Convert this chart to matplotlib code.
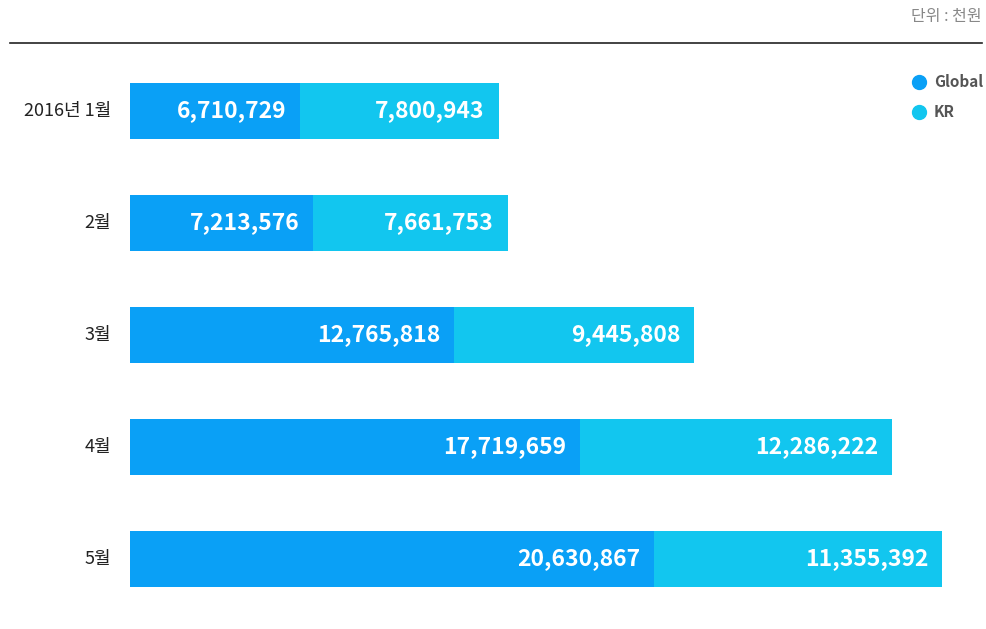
import matplotlib.pyplot as plt
import numpy as np

plt.rcParams['font.family'] = ['Noto Sans CJK KR', 'DejaVu Sans']

months = ['2016년 1월', '2월', '3월', '4월', '5월']
global_vals = [6710729, 7213576, 12765818, 17719659, 20630867]
kr_vals = [7800943, 7661753, 9445808, 12286222, 11355392]

c_global = '#0aa0f6'
c_kr = '#12c6ef'

fig = plt.figure(figsize=(9.86, 6.29), dpi=100)
ax = fig.add_axes([130 / 986, 1 - 615 / 629, 838 / 986, 560 / 629])

y = np.arange(len(months))
g = np.array(global_vals)
k = np.array(kr_vals)
ax.barh(y, g, height=0.5, color=c_global)
ax.barh(y, k, left=g, height=0.5, color=c_kr)

ax.set_xlim(0, 33e6)
ax.set_ylim(4.5, -0.5)

pad = 0.55e6
for i in range(len(months)):
    ax.text(g[i] - pad, y[i], f'{g[i]:,}', ha='right', va='center',
            color='white', fontsize=16.5, fontweight='bold')
    ax.text(g[i] + k[i] - pad, y[i], f'{k[i]:,}', ha='right', va='center',
            color='white', fontsize=16.5, fontweight='bold')
    ax.text(-0.75e6, y[i], months[i], ha='right', va='center',
            color='#222222', fontsize=13)

ax.axis('off')

# top rule and unit label
fig.add_artist(plt.Line2D([10 / 986, 982 / 986], [1 - 43 / 629] * 2,
                          color='#222222', lw=1.2))
fig.text(982 / 986, 1 - 17 / 629, '단위 : 천원', ha='right', va='center',
         color='#888888', fontsize=11.5)

# legend
for lab, col, py in [('Global', c_global, 82), ('KR', c_kr, 112)]:
    fig.add_artist(plt.Line2D([919 / 986], [1 - py / 629], marker='o',
                              markersize=10, color=col, linestyle='none',
                              transform=fig.transFigure))
    fig.text(934 / 986, 1 - py / 629, lab, ha='left', va='center',
             color='#555555', fontsize=11, fontweight='bold')

fig.savefig('out.png', dpi=100)
